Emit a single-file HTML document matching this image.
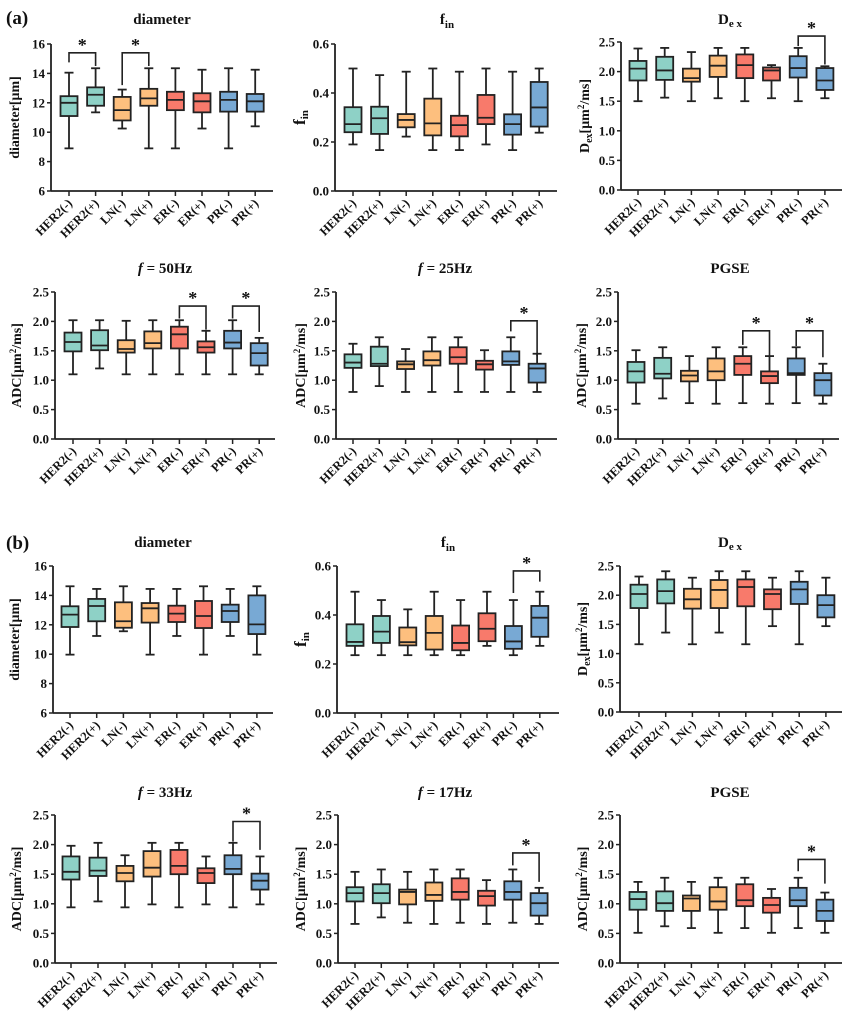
<!DOCTYPE html>
<html><head><meta charset="utf-8"><style>
body{margin:0;background:#fff}
svg{display:block}
text{font-family:"Liberation Serif",serif;font-weight:bold;fill:#111}
</style></head><body>
<svg id="fig" width="848" height="1015" viewBox="0 0 848 1015" xmlns="http://www.w3.org/2000/svg">
<text x="6" y="24" font-size="19">(a)</text>
<text x="6" y="549" font-size="19">(b)</text>
</svg>
<script>
const categories = ["HER2(-)","HER2(+)","LN(-)","LN(+)","ER(-)","ER(+)","PR(-)","PR(+)"];
const colors = ["#8ed1c6","#8ed1c6","#fdbf7e","#fdbf7e","#f87a6b","#f87a6b","#78a9d4","#78a9d4"];
// each box: [min, q1, median, q3, max]
const aDiameter = [[8.9,11.1,12.0,12.45,14.05],[11.35,11.8,12.55,13.05,14.35],[10.25,10.8,11.5,12.4,12.9],[8.9,11.8,12.3,12.95,14.35],[8.9,11.5,12.2,12.75,14.35],[10.25,11.35,12.1,12.65,14.25],[8.9,11.4,12.2,12.75,14.35],[10.4,11.4,12.1,12.6,14.25]];
const aFin = [[0.19,0.24,0.273,0.342,0.50],[0.167,0.233,0.297,0.344,0.473],[0.222,0.26,0.29,0.314,0.487],[0.167,0.227,0.276,0.377,0.50],[0.167,0.223,0.269,0.307,0.487],[0.19,0.273,0.299,0.392,0.50],[0.167,0.23,0.273,0.313,0.487],[0.238,0.263,0.341,0.445,0.50]];
const aDex = [[1.5,1.85,2.05,2.18,2.39],[1.56,1.86,2.02,2.25,2.4],[1.5,1.83,1.89,2.05,2.33],[1.55,1.91,2.1,2.27,2.4],[1.5,1.89,2.11,2.29,2.4],[1.55,1.85,2.02,2.07,2.11],[1.5,1.9,2.06,2.26,2.4],[1.55,1.69,1.85,2.06,2.09]];
const a50Hz = [[1.1,1.49,1.65,1.81,2.02],[1.2,1.51,1.59,1.85,2.02],[1.1,1.47,1.53,1.68,2.01],[1.1,1.54,1.63,1.83,2.02],[1.1,1.54,1.78,1.91,2.02],[1.1,1.47,1.56,1.66,1.84],[1.1,1.54,1.64,1.84,2.02],[1.1,1.25,1.46,1.63,1.72]];
const a25Hz = [[0.8,1.21,1.3,1.44,1.62],[0.9,1.24,1.28,1.57,1.73],[0.8,1.19,1.27,1.32,1.53],[0.8,1.25,1.34,1.49,1.73],[0.8,1.28,1.39,1.56,1.73],[0.8,1.18,1.27,1.33,1.51],[0.8,1.26,1.32,1.49,1.73],[0.8,0.96,1.2,1.28,1.45]];
const aPGSE = [[0.6,0.96,1.15,1.31,1.51],[0.69,1.03,1.11,1.38,1.56],[0.61,0.98,1.08,1.16,1.41],[0.6,1.0,1.15,1.37,1.56],[0.61,1.09,1.28,1.41,1.56],[0.6,0.95,1.07,1.15,1.41],[0.61,1.09,1.12,1.37,1.56],[0.6,0.74,1.0,1.12,1.28]];
const bDiameter = [[9.97,11.85,12.69,13.26,14.62],[11.24,12.24,13.28,13.76,14.44],[11.56,11.8,12.24,13.53,14.62],[9.97,12.15,13.12,13.48,14.44],[11.24,12.19,12.76,13.3,14.44],[9.97,11.78,12.6,13.62,14.62],[11.24,12.19,12.94,13.37,14.44],[9.97,11.37,12.03,14.0,14.62]];
const bFin = [[0.236,0.274,0.29,0.362,0.495],[0.236,0.286,0.332,0.396,0.461],[0.236,0.276,0.289,0.349,0.423],[0.236,0.259,0.327,0.396,0.495],[0.236,0.256,0.286,0.357,0.461],[0.274,0.293,0.344,0.407,0.495],[0.236,0.262,0.292,0.355,0.461],[0.274,0.311,0.389,0.437,0.495]];
const bDex = [[1.16,1.78,2.02,2.18,2.32],[1.36,1.86,2.07,2.27,2.41],[1.16,1.77,1.93,2.11,2.3],[1.36,1.78,2.09,2.26,2.41],[1.16,1.81,2.14,2.27,2.41],[1.47,1.76,2.02,2.1,2.3],[1.16,1.85,2.1,2.23,2.41],[1.47,1.62,1.83,2.0,2.3]];
const b33Hz = [[0.94,1.41,1.54,1.8,1.98],[1.04,1.47,1.56,1.78,2.03],[0.94,1.38,1.52,1.64,1.82],[0.99,1.46,1.61,1.89,2.03],[0.94,1.5,1.64,1.91,2.03],[0.99,1.35,1.52,1.6,1.8],[0.94,1.5,1.59,1.82,2.03],[0.99,1.24,1.39,1.51,1.8]];
const b17Hz = [[0.66,1.04,1.18,1.28,1.54],[0.77,1.01,1.18,1.33,1.58],[0.68,0.99,1.2,1.24,1.54],[0.66,1.05,1.15,1.36,1.58],[0.68,1.07,1.2,1.43,1.58],[0.66,0.97,1.13,1.22,1.4],[0.68,1.07,1.2,1.38,1.58],[0.66,0.8,1.01,1.18,1.27]];
const bPGSE = [[0.51,0.9,1.08,1.2,1.37],[0.62,0.88,1.01,1.21,1.44],[0.59,0.88,1.09,1.14,1.37],[0.51,0.9,1.04,1.28,1.44],[0.59,0.96,1.06,1.33,1.44],[0.51,0.85,0.98,1.1,1.25],[0.59,0.96,1.06,1.27,1.44],[0.51,0.71,0.88,1.07,1.19]];
// significance brackets: [i, j, top, leftEnd, rightEnd]
const aDiameterSig = [[0,1,15.4,14.75,14.5],[2,3,15.4,13.2,14.5]];
const aDexSig = [[6,7,2.6,2.43,2.12]];
const a50HzSig = [[4,5,2.26,2.05,1.86],[6,7,2.26,2.05,1.82]];
const a25HzSig = [[6,7,2.01,1.83,1.41]];
const aPGSESig = [[4,5,1.84,1.6,1.41],[6,7,1.84,1.58,1.39]];
const bFinSig = [[6,7,0.58,0.49,0.536]];
const b33HzSig = [[6,7,2.39,2.05,1.91]];
const b17HzSig = [[6,7,1.86,1.65,1.37]];
const bPGSESig = [[6,7,1.75,1.55,1.34]];
const yTicksDiam = [6,8,10,12,14,16];
const yTicksFin = [0,0.2,0.4,0.6];
const yTicksAdc = [0,0.5,1.0,1.5,2.0,2.5];

const NS="http://www.w3.org/2000/svg";
const svg=document.getElementById('fig');
function mk(tag,attrs,parent){const e=document.createElementNS(NS,tag);for(const k in attrs)e.setAttribute(k,attrs[k]);(parent||svg).appendChild(e);return e;}

const panels=[
 {id:'a-diameter',title:'diameter',ylab:'diameter[μm]',data:aDiameter,sig:aDiameterSig,ticks:yTicksDiam,dec:0,ax:51,top:44,bot:191,c0:69,sp:26.6,end:273,tx:162,ty:24,lx:19},
 {id:'a-fin',title:'fin',ylab:'fin',data:aFin,sig:[],ticks:yTicksFin,dec:1,ax:335,top:44,bot:191,c0:353,sp:26.6,end:557,tx:447,ty:24,lx:305},
 {id:'a-dex',title:'dex',ylab:'dex',data:aDex,sig:aDexSig,ticks:yTicksAdc,dec:1,ax:621,top:42,bot:190,c0:638,sp:26.7,end:842,tx:730,ty:24,lx:589},
 {id:'a-50hz',title:'f = 50Hz',ylab:'ADC',data:a50Hz,sig:a50HzSig,ticks:yTicksAdc,dec:1,ax:55,top:292,bot:439,c0:73,sp:26.6,end:275,tx:165,ty:273,lx:21},
 {id:'a-25hz',title:'f = 25Hz',ylab:'ADC',data:a25Hz,sig:a25HzSig,ticks:yTicksAdc,dec:1,ax:336,top:292,bot:439,c0:353,sp:26.3,end:557,tx:445,ty:273,lx:305},
 {id:'a-pgse',title:'PGSE',ylab:'ADC',data:aPGSE,sig:aPGSESig,ticks:yTicksAdc,dec:1,ax:618,top:292,bot:439,c0:636,sp:26.7,end:839,tx:730,ty:273,lx:586},
 {id:'b-diameter',title:'diameter',ylab:'diameter[μm]',data:bDiameter,sig:[],ticks:yTicksDiam,dec:0,ax:53,top:566,bot:713,c0:70,sp:26.7,end:273,tx:163,ty:547,lx:19},
 {id:'b-fin',title:'fin',ylab:'fin',data:bFin,sig:bFinSig,ticks:yTicksFin,dec:1,ax:337,top:566,bot:713,c0:355,sp:26.4,end:559,tx:448,ty:547,lx:306},
 {id:'b-dex',title:'dex',ylab:'dex',data:bDex,sig:[],ticks:yTicksAdc,dec:1,ax:620,top:566,bot:712,c0:639,sp:26.7,end:842,tx:730,ty:547,lx:587},
 {id:'b-33hz',title:'f = 33Hz',ylab:'ADC',data:b33Hz,sig:b33HzSig,ticks:yTicksAdc,dec:1,ax:55,top:815,bot:963,c0:71,sp:27.0,end:277,tx:165,ty:797,lx:21},
 {id:'b-17hz',title:'f = 17Hz',ylab:'ADC',data:b17Hz,sig:b17HzSig,ticks:yTicksAdc,dec:1,ax:338,top:815,bot:963,c0:355,sp:26.3,end:559,tx:445,ty:797,lx:305},
 {id:'b-pgse',title:'PGSE',ylab:'ADC',data:bPGSE,sig:bPGSESig,ticks:yTicksAdc,dec:1,ax:620,top:815,bot:963,c0:638,sp:26.7,end:842,tx:730,ty:797,lx:587}
];

function drawTitle(p,g){
  const t=mk('text',{x:p.tx,y:p.ty,'font-size':15,'text-anchor':'middle'},g);
  if(p.title==='fin'){
    t.innerHTML='f<tspan font-size="11" dy="4">in</tspan>';
  }else if(p.title==='dex'){
    t.innerHTML='D<tspan font-size="11" dy="3">e x</tspan>';
  }else if(p.title.startsWith('f =')){
    t.innerHTML='<tspan font-style="italic">f</tspan> '+p.title.slice(2);
  }else{
    t.textContent=p.title;
  }
  
  
}
function drawYLabel(p,g){
  const cy=(p.top+p.bot)/2;
  const t=mk('text',{x:p.lx,y:cy,'font-size':14,'text-anchor':'middle',transform:`rotate(-90 ${p.lx} ${cy})`},g);
  if(p.ylab==='fin'){t.innerHTML='f<tspan font-size="11" dy="3">in</tspan>';t.setAttribute('font-size',17);}
  else if(p.ylab==='dex'){t.innerHTML='D<tspan font-size="10" dy="3">ex</tspan><tspan dy="-3">[μm</tspan><tspan font-size="9" dy="-5">2</tspan><tspan dy="5">/ms]</tspan>';}
  else if(p.ylab==='ADC'){t.innerHTML='ADC[μm<tspan font-size="9" dy="-5">2</tspan><tspan dy="5">/ms]</tspan>';}
  else t.textContent=p.ylab;
  
  
}

panels.forEach(p=>{
  const g=mk('g',{});
  
  
  const lo=p.ticks[0],hi=p.ticks[p.ticks.length-1];
  const y=v=>p.bot-(v-lo)/(hi-lo)*(p.bot-p.top);
  const x=i=>p.c0+i*p.sp;
  drawTitle(p,g);drawYLabel(p,g);
  const ya=mk('line',{x1:p.ax,y1:p.top,x2:p.ax,y2:p.bot,stroke:'#222','stroke-width':1.8},g);
  
  
  const xa=mk('line',{x1:p.ax,y1:p.bot,x2:p.end,y2:p.bot,stroke:'#222','stroke-width':1.8},g);
  
  
  p.ticks.forEach(v=>{
    mk('line',{x1:p.ax-4,y1:y(v),x2:p.ax,y2:y(v),stroke:'#222','stroke-width':1.5},g);
    const t=mk('text',{x:p.ax-6,y:y(v)+4.5,'font-size':13,'text-anchor':'end'},g);
    t.textContent=v.toFixed(p.dec);
    
    
  });
  categories.forEach((c,i)=>{
    mk('line',{x1:x(i),y1:p.bot,x2:x(i),y2:p.bot+5,stroke:'#222','stroke-width':1.5},g);
    const tx=x(i)+4,ty=p.bot+13;
    const t=mk('text',{x:tx,y:ty,'font-size':12.5,'text-anchor':'end',transform:`rotate(-45 ${tx} ${ty})`},g);
    t.textContent=c;
    
    
  });
  p.data.forEach((d,i)=>{
    const bg=mk('g',{},g);
    
    
    const cx=x(i),hw=8.5,cw=4.5;
    mk('line',{x1:cx,y1:y(d[0]),x2:cx,y2:y(d[4]),stroke:'#222','stroke-width':1.8},bg);
    mk('line',{x1:cx-cw,y1:y(d[0]),x2:cx+cw,y2:y(d[0]),stroke:'#222','stroke-width':1.8},bg);
    mk('line',{x1:cx-cw,y1:y(d[4]),x2:cx+cw,y2:y(d[4]),stroke:'#222','stroke-width':1.8},bg);
    mk('rect',{x:cx-hw,y:y(d[3]),width:2*hw,height:Math.max(1,y(d[1])-y(d[3])),fill:colors[i],stroke:'#222','stroke-width':1.8},bg);
    mk('line',{x1:cx-hw,y1:y(d[2]),x2:cx+hw,y2:y(d[2]),stroke:'#222','stroke-width':1.8},bg);
  });
  p.sig.forEach(s=>{
    const sg=mk('g',{},g);
    
    
    const x1=x(s[0]),x2=x(s[1]);
    mk('polyline',{points:`${x1},${y(s[3])} ${x1},${y(s[2])} ${x2},${y(s[2])} ${x2},${y(s[4])}`,fill:'none',stroke:'#222','stroke-width':1.6},sg);
    const t=mk('text',{x:(x1+x2)/2,y:y(s[2])-2,'font-size':18,'text-anchor':'middle'},sg);
    t.textContent='*';
  });
});
</script>
</body></html>
